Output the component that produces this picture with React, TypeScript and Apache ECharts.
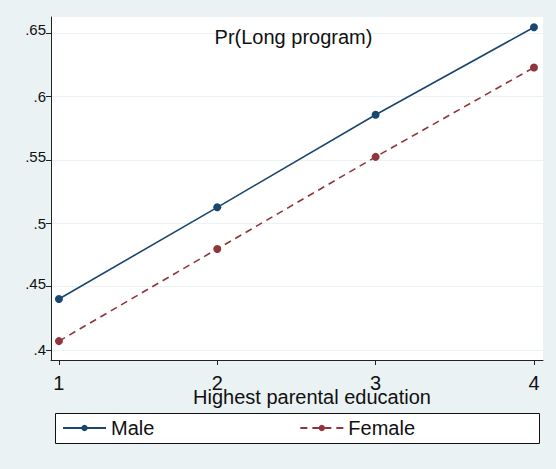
import React, { useEffect, useRef } from "react";
import * as echarts from "echarts";

const categories = [1, 2, 3, 4];
const maleValues = [0.4402, 0.5125, 0.5855, 0.6545];
const femaleValues = [0.407, 0.4797, 0.5523, 0.6228];
const yTicks = [0.4, 0.45, 0.5, 0.55, 0.6, 0.65];
const seriesNames = ["Male", "Female"];
const titleText = "Pr(Long program)";
const xTitle = "Highest parental education";

export default function App() {
  const ref = useRef<HTMLDivElement>(null);
  useEffect(() => {
    const chart = echarts.init(ref.current!, null, { renderer: "svg" });
    const font = "'Liberation Sans', Arial, sans-serif";
    chart.setOption({
      animation: false,
      backgroundColor: "#eaf2f3",
      grid: { left: 51, right: 13, top: 17, bottom: 109, show: true, backgroundColor: "#ffffff", borderWidth: 0 },
      xAxis: {
        type: "value",
        min: 0.95,
        max: 4.057,
        name: xTitle,
        nameLocation: "middle",
        nameGap: 27,
        nameMoveOverlap: false,
        nameTextStyle: { fontFamily: font, fontSize: 20, color: "#111", padding: [0, 0, 0, 30] },
        axisLine: { show: true, lineStyle: { color: "#222", width: 1 } },
        axisTick: { show: true, length: 5, customValues: categories, lineStyle: { color: "#222" } },
        axisLabel: {
          customValues: categories,
          fontFamily: font,
          fontSize: 20,
          color: "#111",
          margin: 13,
        },
        splitLine: { show: false },
      },
      yAxis: {
        type: "value",
        min: 0.3921,
        max: 0.6626,
        axisLine: { show: true, lineStyle: { color: "#222", width: 1 } },
        axisTick: { show: true, length: 5, customValues: yTicks, lineStyle: { color: "#222" } },
        axisLabel: {
          customValues: yTicks,
          fontFamily: font,
          fontSize: 15,
          color: "#111",
          margin: 5,
          formatter: (v: number) => {
            const s = String(Number(v.toFixed(2))).replace(/^0/, "");
            return s.length > 2 ? "{hi|" + s + "}" : "{lo|" + s + "}";
          },
          rich: {
            hi: { fontFamily: font, fontSize: 15, color: "#111", padding: [0, 0, 7, 0] },
            lo: { fontFamily: font, fontSize: 15, color: "#111" },
          },
        },
        splitLine: { show: true, customValues: yTicks, lineStyle: { color: "#eaf2f3", width: 1 } },
      },
      graphic: [
        {
          type: "rect",
          shape: { x: 55.5, y: 413.5, width: 484, height: 30 },
          style: { fill: "#ffffff", stroke: "#111", lineWidth: 1 },
          z: 0,
        },
        {
          type: "text",
          x: 293.5,
          y: 27,
          style: {
            text: titleText,
            align: "center",
            verticalAlign: "top",
            fontFamily: font,
            fontSize: 20,
            fill: "#111",
          },
          z: 10,
        },
      ],
      legend: {
        left: 55,
        top: 418,
        padding: [0, 0, 0, 7],
        itemWidth: 43,
        itemHeight: 8,
        itemGap: 145,
        data: seriesNames,
        textStyle: { fontFamily: font, fontSize: 20, color: "#111", padding: [4, 0, 0, 0] },
        z: 5,
      },
      series: [
        {
          name: seriesNames[0],
          type: "line",
          data: categories.map((c, i) => [c, maleValues[i]]),
          symbol: "circle",
          symbolSize: 8,
          color: "#1a476f",
          lineStyle: { color: "#1a476f", width: 1.6, type: "solid" },
          itemStyle: { color: "#1a476f" },
        },
        {
          name: seriesNames[1],
          type: "line",
          data: categories.map((c, i) => [c, femaleValues[i]]),
          symbol: "circle",
          symbolSize: 8,
          color: "#90353b",
          lineStyle: { color: "#90353b", width: 1.6, type: [7, 5] },
          itemStyle: { color: "#90353b" },
        },
      ],
    });
    return () => chart.dispose();
  }, []);
  return <div ref={ref} style={{ position: "fixed", left: 0, top: 0, width: 556, height: 469 }} />;
}
